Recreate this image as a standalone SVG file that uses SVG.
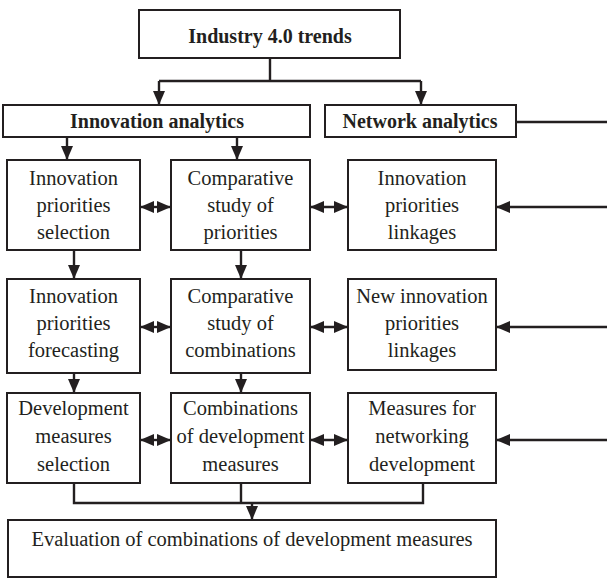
<svg xmlns="http://www.w3.org/2000/svg" width="607" height="579" viewBox="0 0 607 579">
<defs>
<marker id="ah" viewBox="0 0 14 12" refX="14" refY="6" markerWidth="14" markerHeight="12" markerUnits="userSpaceOnUse" orient="auto-start-reverse">
<path d="M0,0 L14,6 L0,12 Z" fill="#231f20"/>
</marker>
</defs>
<rect width="607" height="579" fill="#ffffff"/>
<g id="connectors" fill="none" stroke="#231f20" stroke-width="2.4">
<path d="M270,58 V81 M159,81 H421"/>
<path d="M159,81 V105" marker-end="url(#ah)"/>
<path d="M421,81 V105" marker-end="url(#ah)"/>
<path d="M516,122 H607"/>
<path d="M67,137 V160" marker-end="url(#ah)"/>
<path d="M237,137 V160" marker-end="url(#ah)"/>
<path d="M74,250 V279" marker-end="url(#ah)"/>
<path d="M241,250 V279" marker-end="url(#ah)"/>
<path d="M74,373 V393" marker-end="url(#ah)"/>
<path d="M241,373 V393" marker-end="url(#ah)"/>
<path d="M140,207 H171" marker-start="url(#ah)" marker-end="url(#ah)"/>
<path d="M310,207 H348" marker-start="url(#ah)" marker-end="url(#ah)"/>
<path d="M607,207 H496" marker-end="url(#ah)"/>
<path d="M140,327 H171" marker-start="url(#ah)" marker-end="url(#ah)"/>
<path d="M310,327 H348" marker-start="url(#ah)" marker-end="url(#ah)"/>
<path d="M607,327 H496" marker-end="url(#ah)"/>
<path d="M140,440 H171" marker-start="url(#ah)" marker-end="url(#ah)"/>
<path d="M310,440 H348" marker-start="url(#ah)" marker-end="url(#ah)"/>
<path d="M607,440 H496" marker-end="url(#ah)"/>
<path d="M74,483 V503 H423 V483 M241,483 V503"/>
<path d="M252,503 V520" marker-end="url(#ah)"/>
</g>
<g id="nodes" fill="#231f20" text-anchor="middle" style="font-family:'Times New Roman','Liberation Serif',serif">
<g id="industry"><rect x="139" y="10" width="261" height="48" fill="#fff" stroke="#231f20" stroke-width="2"/><text font-family="Times New Roman" font-size="20" font-weight="bold" x="270" y="43">Industry 4.0 trends</text></g>
<g id="innovation-analytics"><rect x="3" y="105" width="307" height="32" fill="#fff" stroke="#231f20" stroke-width="2"/><text font-family="Times New Roman" font-size="20" font-weight="bold" x="157" y="128">Innovation analytics</text></g>
<g id="network-analytics"><rect x="325" y="105" width="191" height="32" fill="#fff" stroke="#231f20" stroke-width="2"/><text font-family="Times New Roman" font-size="20" font-weight="bold" x="420" y="128">Network analytics</text></g>
<g id="n11" font-size="20.5"><rect x="7" y="160" width="133" height="90" fill="#fff" stroke="#231f20" stroke-width="2"/><text font-family="Times New Roman" x="73.5" y="185">Innovation</text><text font-family="Times New Roman" x="73.5" y="212">priorities</text><text font-family="Times New Roman" x="73.5" y="239">selection</text></g>
<g id="n12" font-size="20.5"><rect x="171" y="160" width="139" height="90" fill="#fff" stroke="#231f20" stroke-width="2"/><text font-family="Times New Roman" x="240.5" y="185">Comparative</text><text font-family="Times New Roman" x="240.5" y="212">study of</text><text font-family="Times New Roman" x="240.5" y="239">priorities</text></g>
<g id="n13" font-size="20.5"><rect x="348" y="160" width="148" height="90" fill="#fff" stroke="#231f20" stroke-width="2"/><text font-family="Times New Roman" x="422" y="185">Innovation</text><text font-family="Times New Roman" x="422" y="212">priorities</text><text font-family="Times New Roman" x="422" y="239">linkages</text></g>
<g id="n21" font-size="20.5"><rect x="7" y="279" width="133" height="94" fill="#fff" stroke="#231f20" stroke-width="2"/><text font-family="Times New Roman" x="73.5" y="303">Innovation</text><text font-family="Times New Roman" x="73.5" y="330">priorities</text><text font-family="Times New Roman" x="73.5" y="357">forecasting</text></g>
<g id="n22" font-size="20.5"><rect x="171" y="279" width="139" height="94" fill="#fff" stroke="#231f20" stroke-width="2"/><text font-family="Times New Roman" x="240.5" y="303">Comparative</text><text font-family="Times New Roman" x="240.5" y="330">study of</text><text font-family="Times New Roman" x="240.5" y="357">combinations</text></g>
<g id="n23" font-size="20.5"><rect x="348" y="279" width="148" height="91" fill="#fff" stroke="#231f20" stroke-width="2"/><text font-family="Times New Roman" x="422" y="303">New innovation</text><text font-family="Times New Roman" x="422" y="330">priorities</text><text font-family="Times New Roman" x="422" y="357">linkages</text></g>
<g id="n31" font-size="20.5"><rect x="7" y="393" width="133" height="90" fill="#fff" stroke="#231f20" stroke-width="2"/><text font-family="Times New Roman" x="73.5" y="415">Development</text><text font-family="Times New Roman" x="73.5" y="443">measures</text><text font-family="Times New Roman" x="73.5" y="471">selection</text></g>
<g id="n32" font-size="20.5"><rect x="171" y="393" width="139" height="90" fill="#fff" stroke="#231f20" stroke-width="2"/><text font-family="Times New Roman" x="240.5" y="415">Combinations</text><text font-family="Times New Roman" x="240.5" y="443">of development</text><text font-family="Times New Roman" x="240.5" y="471">measures</text></g>
<g id="n33" font-size="20.5"><rect x="348" y="393" width="148" height="90" fill="#fff" stroke="#231f20" stroke-width="2"/><text font-family="Times New Roman" x="422" y="415">Measures for</text><text font-family="Times New Roman" x="422" y="443">networking</text><text font-family="Times New Roman" x="422" y="471">development</text></g>
<g id="evaluation" font-size="20.5"><rect x="8" y="520" width="488" height="57" fill="#fff" stroke="#231f20" stroke-width="2"/><text font-family="Times New Roman" x="252" y="546">Evaluation of combinations of development measures</text></g>
</g>
</svg>
